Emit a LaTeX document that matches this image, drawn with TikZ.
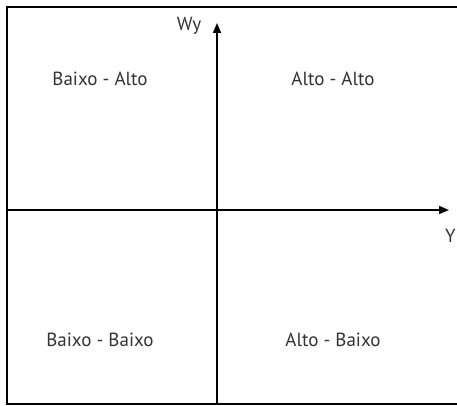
\documentclass[tikz,border=0pt]{standalone}
\usepackage{fontspec}
\setmainfont{PT Sans}
\usetikzlibrary{arrows.meta}
\begin{document}
\begin{tikzpicture}[x=1pt,y=1pt,
  axis/.style={line width=1.7pt, -{Triangle[length=10pt,width=8pt]}},
  lbl/.style={font=\fontsize{19}{22}\selectfont, text=black!80, inner sep=0pt},
  frame/.style={line width=2pt}]
\useasboundingbox (0,0) rectangle (457,406);
\draw[frame] (470,399) -- (7,399) -- (7,1.5) -- (470,1.5);
\coordinate (yb) at (217,1.5);
\coordinate (yt) at (217,383);
\coordinate (xl) at (7,196);
\coordinate (xr) at (449,196);
\draw[axis] (yb) -- (yt);
\draw[axis] (xl) -- (xr);
\node[lbl] (wy) at (189,380) {Wy};
\node[lbl] (y) at (450.5,170) {Y};
\node[lbl] (ba) at (100,327) {Baixo - Alto};
\node[lbl] (aa) at (333,327) {Alto - Alto};
\node[lbl] (bb) at (100,66) {Baixo - Baixo};
\node[lbl] (ab) at (333,66) {Alto - Baixo};
\end{tikzpicture}
\end{document}
